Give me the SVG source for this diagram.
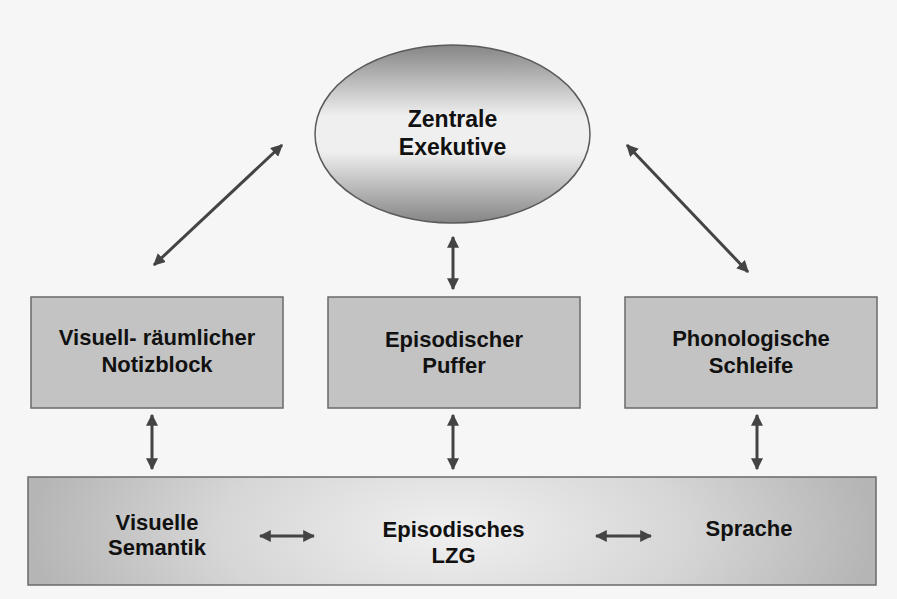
<svg xmlns="http://www.w3.org/2000/svg" width="897" height="599" viewBox="0 0 897 599">
  <defs>
    <linearGradient id="ovalFill" x1="0" y1="0" x2="0" y2="1">
      <stop offset="0" stop-color="#858585"/>
      <stop offset="0.4" stop-color="#efefef"/>
      <stop offset="0.6" stop-color="#efefef"/>
      <stop offset="1" stop-color="#858585"/>
    </linearGradient>
    <radialGradient id="ltmFill" cx="0.5" cy="0.5" r="0.5" gradientTransform="translate(0.5 0.5) scale(1 3.5) translate(-0.5 -0.5)">
      <stop offset="0" stop-color="#f0f0f0"/>
      <stop offset="0.55" stop-color="#d6d6d6"/>
      <stop offset="1" stop-color="#b5b5b5"/>
    </radialGradient>
    <marker id="head" viewBox="0 0 10 10" refX="9" refY="5" markerWidth="4" markerHeight="4" orient="auto-start-reverse" markerUnits="strokeWidth">
      <path d="M0,0 L10,5 L0,10 Z" fill="#444"/>
    </marker>
  </defs>
  <style>
    .box { fill: #c3c3c3; stroke: #6a6a6a; stroke-width: 1.5; }
    .lbl { font-family: "Liberation Sans", Arial, sans-serif; font-weight: bold; font-size: 22px; fill: #111; text-anchor: middle; }
    .big { font-size: 23px; }
    .conn { stroke: #444; stroke-width: 3; fill: none; marker-start: url(#head); marker-end: url(#head); }
  </style>

  <rect x="0" y="0" width="897" height="599" fill="#f6f6f6"/>

  <g id="central-executive">
    <ellipse cx="452.5" cy="134" rx="137.5" ry="89" fill="url(#ovalFill)" stroke="#5a5a5a" stroke-width="1.5"/>
    <text class="lbl big" x="452.5" y="127">Zentrale</text>
    <text class="lbl big" x="452.5" y="155">Exekutive</text>
  </g>

  <g id="visuospatial-sketchpad">
    <rect class="box" x="31" y="297" width="252" height="111"/>
    <text class="lbl" x="157" y="345">Visuell- räumlicher</text>
    <text class="lbl" x="157" y="372">Notizblock</text>
  </g>

  <g id="episodic-buffer">
    <rect class="box" x="328" y="297" width="252" height="111"/>
    <text class="lbl" x="454" y="347">Episodischer</text>
    <text class="lbl" x="454" y="373">Puffer</text>
  </g>

  <g id="phonological-loop">
    <rect class="box" x="625" y="297" width="252" height="111"/>
    <text class="lbl" x="751" y="346">Phonologische</text>
    <text class="lbl" x="751" y="373">Schleife</text>
  </g>

  <g id="long-term-memory">
    <rect x="28" y="477" width="848" height="108" fill="url(#ltmFill)" stroke="#6a6a6a" stroke-width="1.5"/>
    <text class="lbl" x="157" y="530">Visuelle</text>
    <text class="lbl" x="157" y="555">Semantik</text>
    <text class="lbl" x="453.5" y="537">Episodisches</text>
    <text class="lbl" x="453.5" y="563">LZG</text>
    <text class="lbl" x="749" y="536">Sprache</text>
  </g>

  <g id="connectors">
    <line class="conn" x1="282" y1="145" x2="154" y2="265"/>
    <line class="conn" x1="627" y1="145" x2="748" y2="272"/>
    <line class="conn" x1="453" y1="237" x2="453" y2="289"/>
    <line class="conn" x1="152" y1="415" x2="152" y2="469"/>
    <line class="conn" x1="453" y1="415" x2="453" y2="469"/>
    <line class="conn" x1="757" y1="415" x2="757" y2="469"/>
    <line class="conn" x1="260" y1="536" x2="314" y2="536"/>
    <line class="conn" x1="596" y1="536" x2="651" y2="536"/>
  </g>
</svg>
